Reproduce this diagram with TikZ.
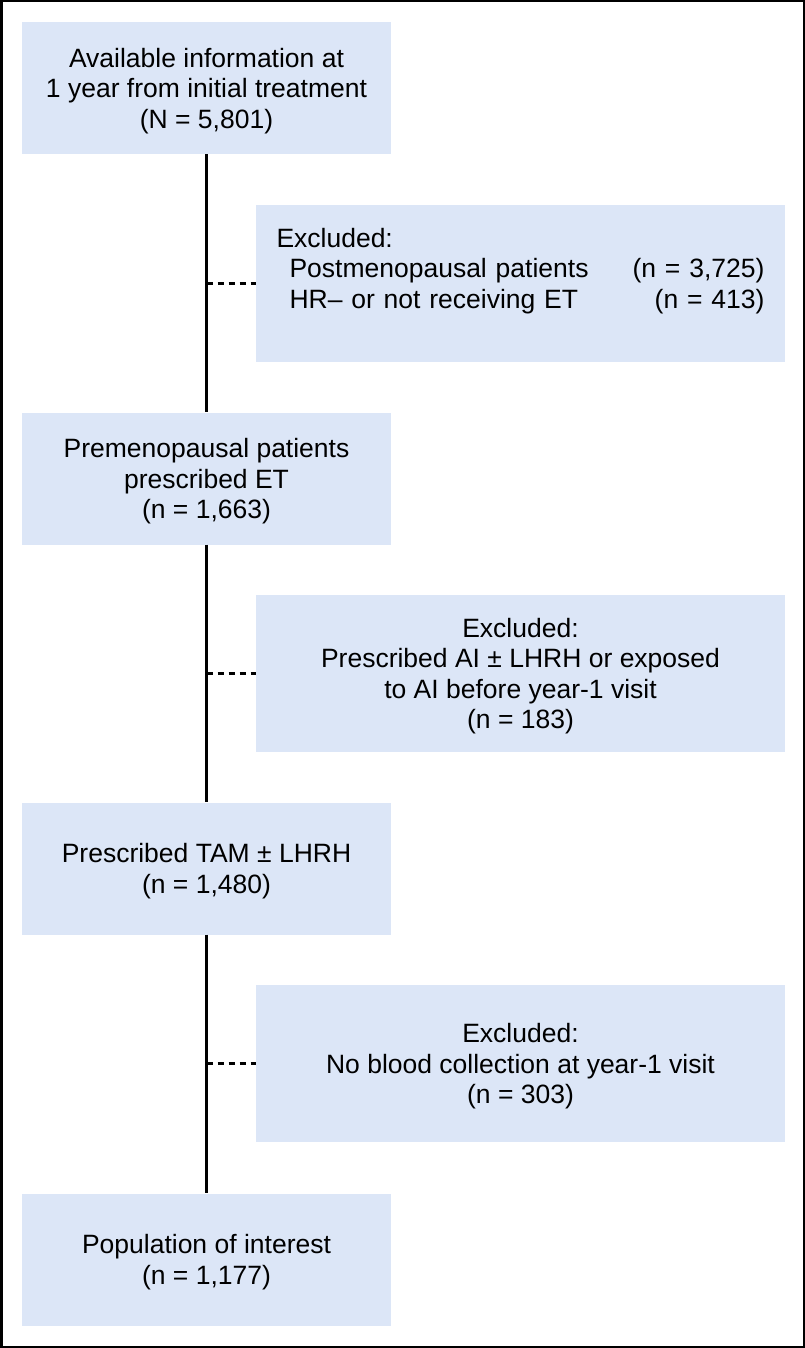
\documentclass[tikz,border=0pt]{standalone}
\usepackage{fontspec}
\setmainfont{Liberation Sans}
\definecolor{fondbleu}{RGB}{220,230,247}

\begin{document}
\begin{tikzpicture}[x=1pt,y=-1pt]
\tikzset{etape/.style={fill=fondbleu, minimum width=369pt, minimum height=132pt, align=center, text depth=0pt, font=\fontsize{26.5}{30.5}\selectfont}}
\tikzset{exclu/.style={fill=fondbleu, minimum width=529pt, minimum height=157pt, align=center, text depth=0pt, font=\fontsize{26.5}{30.5}\selectfont}}
\tikzset{trait/.style={line width=2.2pt}}
\useasboundingbox (0,0) rectangle (805,1348);
\draw[line width=2.5pt] (1.25,1.25) rectangle (803.75,1346.75);
\node[etape] (E1) at (206.5,88) {Available information at\\1 year from initial treatment\\(N = 5,801)};
\node[exclu, text width=488pt, align=left, text depth={}] (X1) at (520.5,283.5) {Excluded:\\\hspace*{13pt}Postmenopausal patients\hfill(n = 3,725)\\\hspace*{13pt}HR– or not receiving ET\hfill(n = 413)\\~};
\node[etape] (E2) at (206.5,478.5) {Premenopausal patients\\prescribed ET\\(n = 1,663)};
\node[exclu] (X2) at (520.5,673.5) {Excluded:\\Prescribed AI ± LHRH or exposed\\to AI before year-1 visit\\(n = 183)};
\node[etape] (E3) at (206.5,868.5) {Prescribed TAM ± LHRH\\(n = 1,480)};
\node[exclu] (X3) at (520.5,1063.5) {Excluded:\\No blood collection at year-1 visit\\(n = 303)};
\node[etape] (E4) at (206.5,1259.5) {Population of interest\\(n = 1,177)};
\draw[trait] (E1) -- (E2);
\draw[trait] (E2) -- (E3);
\draw[trait] (E3) -- (E4);
\draw[trait, dash pattern=on 6pt off 5pt] (X1.west -| E1.south) -- (X1.west);
\draw[trait, dash pattern=on 6pt off 5pt] (X2.west -| E2.south) -- (X2.west);
\draw[trait, dash pattern=on 6pt off 5pt] (X3.west -| E3.south) -- (X3.west);
\end{tikzpicture}
\end{document}
